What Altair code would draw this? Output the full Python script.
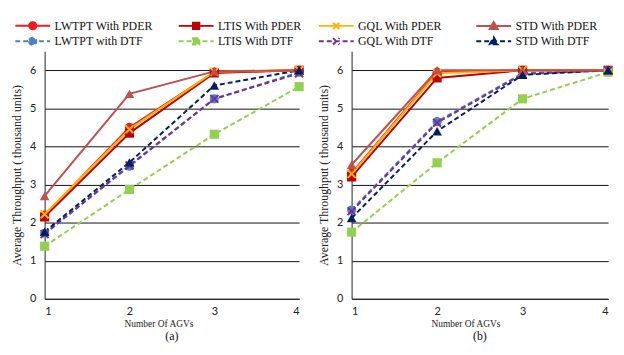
import altair as alt
import pandas as pd

agvs = [1, 2, 3, 4]
series_names = ["LWTPT With PDER", "LTIS With PDER", "GQL With PDER", "STD With PDER",
                "LWTPT with DTF", "LTIS With DTF", "GQL With DTF", "STD With DTF"]
series_colors = ["#ED1C24", "#C00000", "#FFB400", "#C0504D",
                 "#4F81BD", "#92D050", "#7030A0", "#002060"]

# panel (a)
a_lwtpt_pder = [2.20, 4.50, 5.95, 6.00]
a_ltis_pder = [2.15, 4.35, 5.93, 6.00]
a_gql_pder = [2.22, 4.45, 5.96, 6.00]
a_std_pder = [2.70, 5.38, 5.97, 6.00]
a_lwtpt_dtf = [1.72, 3.48, 5.25, 5.95]
a_ltis_dtf = [1.38, 2.87, 4.32, 5.57]
a_gql_dtf = [1.70, 3.50, 5.25, 5.92]
a_std_dtf = [1.76, 3.58, 5.60, 6.00]

# panel (b)
b_lwtpt_pder = [3.30, 5.95, 6.00, 6.00]
b_ltis_pder = [3.20, 5.80, 6.00, 6.00]
b_gql_pder = [3.28, 5.92, 6.00, 6.00]
b_std_pder = [3.52, 6.00, 6.00, 6.00]
b_lwtpt_dtf = [2.33, 4.65, 5.92, 6.00]
b_ltis_dtf = [1.75, 3.57, 5.25, 5.95]
b_gql_dtf = [2.30, 4.62, 5.90, 6.00]
b_std_dtf = [2.12, 4.40, 5.88, 6.00]

y_ticks = [0, 1, 2, 3, 4, 5, 6]

a_series = [a_lwtpt_pder, a_ltis_pder, a_gql_pder, a_std_pder,
            a_lwtpt_dtf, a_ltis_dtf, a_gql_dtf, a_std_dtf]
b_series = [b_lwtpt_pder, b_ltis_pder, b_gql_pder, b_std_pder,
            b_lwtpt_dtf, b_ltis_dtf, b_gql_dtf, b_std_dtf]


def to_df(vals):
    rows = []
    for name, v in zip(series_names, vals):
        for x, y in zip(agvs, v):
            rows.append({"series": name, "agvs": x, "value": y})
    return pd.DataFrame(rows)


SERIF = "Liberation Serif"
SANS = "Lato"

color_scale = alt.Scale(domain=series_names, range=series_colors)

marker_of = {
    "LWTPT With PDER": "circle", "LWTPT with DTF": "circle",
    "LTIS With PDER": "square", "LTIS With DTF": "square",
    "GQL With PDER": "cross", "GQL With DTF": "cross",
    "STD With PDER": "triangle", "STD With DTF": "triangle",
}
legend_paths = {
    "circle": "M-4.4,0L4.4,0M-0.9,0A0.9,0.9 0 1,0 0.9,0A0.9,0.9 0 1,0 -0.9,0Z",
    "square": "M-4.4,0L4.4,0M-0.8,-0.8L0.8,-0.8L0.8,0.8L-0.8,0.8Z",
    "cross": "M-4.4,0L4.4,0M-0.8,-0.8L0.8,0.8M-0.8,0.8L0.8,-0.8",
    "triangle": "M-4.4,0L4.4,0M0,-1L1,0.75L-1,0.75Z",
}
chart_shapes = {
    "circle": "circle",
    "square": "square",
    "cross": "M-1,-1L1,1M-1,1L1,-1",
    "triangle": "triangle-up",
}


def panel(vals, width, legend_series, legend_x, col_pad, tag):
    df = to_df(vals)
    x_enc = alt.X("agvs:Q",
                  scale=alt.Scale(domain=[1, 4], nice=False, zero=False),
                  axis=alt.Axis(values=agvs, format="d", grid=False, ticks=False,
                                domainColor="#222", domainWidth=1,
                                labelFont=SANS, labelFontSize=11, labelColor="#222",
                                labelPadding=7,
                                title="Number Of AGVs", titleFont=SERIF, titleFontSize=9.5,
                                titleFontWeight="normal", titleColor="#222",
                                titlePadding=2, titleX=115))
    y_enc = alt.Y("value:Q",
                  scale=alt.Scale(domain=[0, 6.5], nice=False),
                  axis=alt.Axis(values=y_ticks, grid=True, gridColor="#111", gridWidth=1,
                                ticks=False, domainColor="#222", domainWidth=1,
                                labelFont=SANS, labelFontSize=11, labelColor="#222",
                                labelPadding=9,
                                title="Average Throughput ( thousand units)",
                                titleFont=SERIF, titleFontSize=12, titleFontWeight="normal",
                                titleColor="#222", titlePadding=6))
    col = alt.Color("series:N", scale=color_scale, legend=None)
    base = alt.Chart(df)
    dtf = [s for s in series_names if "DTF" in s]
    pder = [s for s in series_names if "PDER" in s]
    dashed = base.transform_filter(alt.FieldOneOfPredicate(field="series", oneOf=dtf)) \
        .mark_line(strokeWidth=2, strokeDash=[5, 3]).encode(x=x_enc, y=y_enc, color=col)
    solid = base.transform_filter(alt.FieldOneOfPredicate(field="series", oneOf=pder)) \
        .mark_line(strokeWidth=2).encode(x=x_enc, y=y_enc, color=col)
    layers = [dashed, solid]
    for m in ["circle", "square", "cross", "triangle"]:
        names = [s for s in series_names if marker_of[s] == m]
        if m == "cross":
            mk = base.mark_point(shape=chart_shapes[m], filled=False, strokeWidth=2,
                                 size=64, opacity=1)
        else:
            mk = base.mark_point(shape=chart_shapes[m], filled=True,
                                 size=85 if m != "triangle" else 95, opacity=1)
        layers.append(mk.transform_filter(alt.FieldOneOfPredicate(field="series", oneOf=names))
                      .encode(x=x_enc, y=y_enc, color=col))

    leg_colors = [series_colors[series_names.index(s)] for s in legend_series]
    leg_dash = [[5, 3] if "DTF" in s else [1, 0] for s in legend_series]
    leg_shapes = [legend_paths[marker_of[s]] for s in legend_series]
    lg = alt.Legend(orient="none", legendX=legend_x, legendY=-32, columns=2,
                    direction="horizontal", title=None, padding=0,
                    labelFont=SERIF, labelFontSize=12, labelColor="#111",
                    symbolSize=64, symbolStrokeWidth=2, labelOffset=16,
                    columnPadding=col_pad, rowPadding=0, symbolOpacity=1)
    leg_df = pd.DataFrame({"series": legend_series, "agvs": [1] * 4, "value": [0] * 4})
    legend_layer = alt.Chart(leg_df).transform_filter("datum.agvs > 100").mark_point(
        filled=True, opacity=1).encode(
        x="agvs:Q", y="value:Q",
        fill=alt.Fill("series:N", scale=alt.Scale(domain=legend_series, range=leg_colors), legend=lg),
        stroke=alt.Stroke("series:N", scale=alt.Scale(domain=legend_series, range=leg_colors), legend=lg),
        shape=alt.Shape("series:N", scale=alt.Scale(domain=legend_series, range=leg_shapes), legend=lg),
        strokeDash=alt.StrokeDash("series:N", scale=alt.Scale(domain=legend_series, range=leg_dash), legend=lg),
    )
    layers.append(legend_layer)
    return alt.layer(*layers).properties(
        width=width, height=250,
        title=alt.TitleParams(tag, orient="bottom", font=SERIF, fontSize=12, fontWeight="normal",
                              color="#111", offset=3, anchor="middle"))


left = panel(a_series, 257,
             ["LWTPT With PDER", "LTIS With PDER", "LWTPT with DTF", "LTIS With DTF"],
             -18, 21, "(a)")
right = panel(b_series, 259,
              ["GQL With PDER", "STD With PDER", "GQL With DTF", "STD With DTF"],
              -21.5, 30, "(b)")

chart = alt.hconcat(left, right, spacing=10).resolve_scale(
    fill="independent", stroke="independent", shape="independent", strokeDash="independent"
).resolve_legend(
    fill="independent", stroke="independent", shape="independent", strokeDash="independent"
).properties(
    padding={"left": 2, "top": 10, "right": 0, "bottom": 0}, background="white"
).configure_view(stroke=None)

chart.save("out.html", embed_options={"renderer": "svg", "actions": False})
